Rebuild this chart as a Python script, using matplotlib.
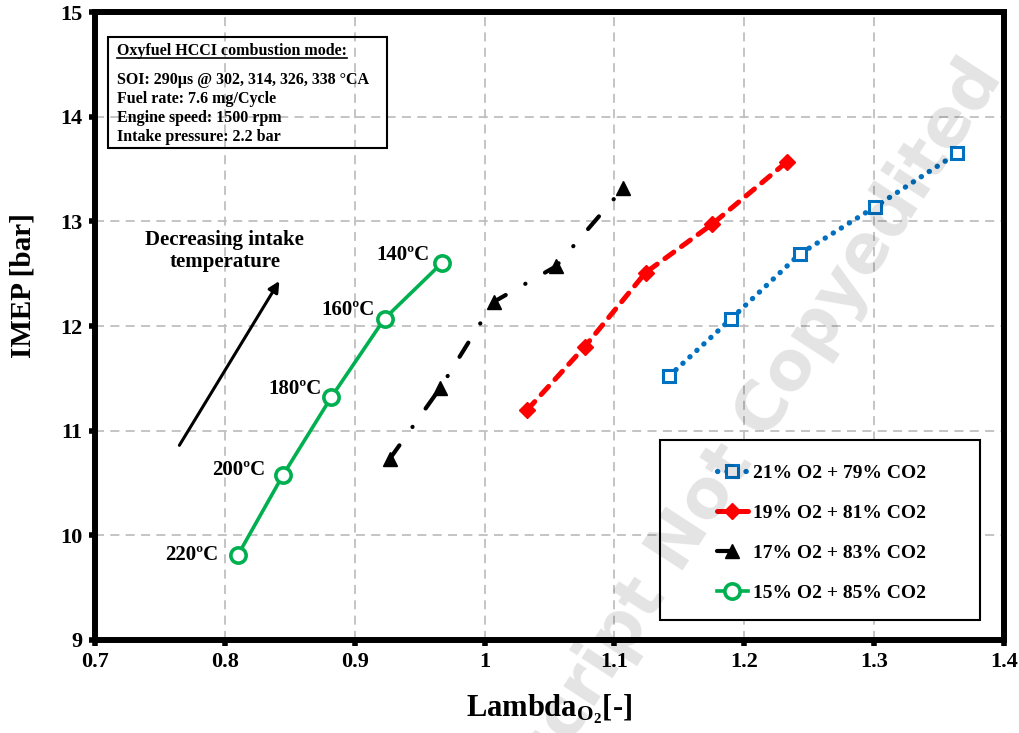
import matplotlib
matplotlib.use("Agg")
import matplotlib.pyplot as plt
from matplotlib.patches import Rectangle

plt.rcParams['font.family'] = ['Liberation Serif', 'DejaVu Serif']
plt.rcParams['font.weight'] = 'bold'
plt.rcParams['mathtext.fontset'] = 'custom'
plt.rcParams['mathtext.rm'] = 'Liberation Serif:bold'
plt.rcParams['mathtext.it'] = 'Liberation Serif:bold'
plt.rcParams['mathtext.bf'] = 'Liberation Serif:bold'

# Lambda_O2 and IMEP for each oxygen / CO2 mixture
lam_21 = [1.142, 1.190, 1.243, 1.301, 1.364]
imep_21 = [11.52, 12.07, 12.69, 13.14, 13.65]
lam_19 = [1.033, 1.077, 1.124, 1.175, 1.233]
imep_19 = [11.20, 11.80, 12.51, 12.97, 13.57]
lam_17 = [0.927, 0.966, 1.007, 1.055, 1.107]
imep_17 = [10.73, 11.41, 12.23, 12.57, 13.32]
lam_15 = [0.810, 0.845, 0.882, 0.923, 0.967]
imep_15 = [9.81, 10.58, 11.32, 12.07, 12.60]
temps_15 = ['220ºC', '200ºC', '180ºC', '160ºC', '140ºC']

labels = ['21% O2 + 79% CO2', '19% O2 + 81% CO2',
          '17% O2 + 83% CO2', '15% O2 + 85% CO2']

xticks = [0.7, 0.8, 0.9, 1.0, 1.1, 1.2, 1.3, 1.4]
xticklabels = ['0.7', '0.8', '0.9', '1', '1.1', '1.2', '1.3', '1.4']
yticks = [9, 10, 11, 12, 13, 14, 15]

info_title = 'Oxyfuel HCCI combustion mode:'
info_lines = ['SOI: 290µs @ 302, 314, 326, 338 °CA',
              'Fuel rate: 7.6 mg/Cycle',
              'Engine speed: 1500 rpm',
              'Intake pressure: 2.2 bar']

fig = plt.figure(figsize=(10.19, 7.33), dpi=100)
ax = fig.add_axes([0.0932, 0.1269, 0.892, 0.8567])

blue = '#0070c0'
red = '#ff0000'
green = '#00b050'

ax.plot(lam_21, imep_21, color=blue, lw=3.8, linestyle=(0, (0.05, 1.75)),
        dash_capstyle='round', marker='s', ms=8.5, mfc='white', mec=blue,
        mew=2.2, label=labels[0], zorder=4)
ax.plot(lam_19, imep_19, color=red, lw=3.6, linestyle=(0, (2.2, 1.9)),
        dash_capstyle='round', marker='D', ms=8, mfc=red, mec=red,
        label=labels[1], zorder=4)
ax.plot(lam_17, imep_17, color='black', lw=3.0,
        linestyle=(0, (4.0, 5.4, 0.05, 5.4)), dash_capstyle='round',
        marker='^', ms=10, mfc='black', mec='black', label=labels[2], zorder=4)
ax.plot(lam_15, imep_15, color=green, lw=2.6, linestyle='-',
        marker='o', ms=11, mfc='white', mec=green, mew=2.6,
        label=labels[3], zorder=4)

# temperature labels next to the 15% O2 points
offsets = [(-14, 0), (-13, 3), (-7, 6), (-7, 6), (-9, 6)]
for x, y, t, off in zip(lam_15, imep_15, temps_15, offsets):
    ax.annotate(t, (x, y), xytext=off, textcoords='offset points',
                ha='right', va='center', fontsize=15, fontweight='bold')

# arrow for decreasing intake temperature
ax.annotate('', xy=(0.842, 12.43), xytext=(0.765, 10.86),
            arrowprops=dict(arrowstyle='-|>', lw=2.2, color='black',
                            mutation_scale=16, shrinkA=0, shrinkB=0))
ax.text(0.8, 12.72, 'Decreasing intake\ntemperature', ha='center',
        va='center', fontsize=15, fontweight='bold', linespacing=1.15)

# info box
ax.add_patch(Rectangle((0.710, 13.70), 0.215, 1.06, fill=False,
                       lw=1.5, ec='black', zorder=5))
title = ax.text(0.717, 14.63, info_title, ha='left', va='center',
                fontsize=11.5, fontweight='bold', zorder=6)
for i, line in enumerate(info_lines):
    ax.text(0.717, 14.35 - i * 0.18, line, ha='left', va='center',
            fontsize=11.5, fontweight='bold', zorder=6)

ax.set_xlim(0.7, 1.4)
ax.set_ylim(9, 15)
ax.set_xticks(xticks)
ax.set_xticklabels(xticklabels)
ax.set_yticks(yticks)
ax.tick_params(direction='out', length=4, width=4, labelsize=16, pad=5)
for lab in ax.get_xticklabels() + ax.get_yticklabels():
    lab.set_fontweight('bold')
for s in ax.spines.values():
    s.set_linewidth(4.3)
ax.grid(True, color='#bfbfbf', linestyle=(0, (5, 3.5)), lw=1.3)
ax.set_axisbelow(True)

ax.set_xlabel(r'Lambda$_{\mathrm{O_2}}$[-]', fontsize=22, fontweight='bold',
              labelpad=14)
ax.set_ylabel('IMEP [bar]', fontsize=21, fontweight='bold')
ax.yaxis.set_label_coords(-0.064, 0.565)

# legend inside its own frame
ax.add_patch(Rectangle((0.6216, 0.0318), 0.352, 0.2867, transform=ax.transAxes,
                       fill=True, fc='white', ec='black', lw=1.5, zorder=5))
leg = ax.legend(loc='center', bbox_to_anchor=(0.799, 0.170), frameon=False,
                prop={'size': 14, 'weight': 'bold'}, handlelength=1.6,
                handletextpad=0.25, labelspacing=1.15)
leg.set_zorder(6)

# underline the info box title
fig.canvas.draw()
bb = title.get_window_extent().transformed(fig.transFigure.inverted())
fig.add_artist(plt.Line2D([bb.x0, bb.x1], [bb.y0 + 0.001, bb.y0 + 0.001],
                          color='black', lw=1.2, transform=fig.transFigure))

# watermark
fig.text(0.69, 0.31, 'Manuscript Not Copyedited', rotation=57,
         ha='center', va='center', fontsize=49, fontweight='bold',
         family='DejaVu Sans', color='black', alpha=0.11, zorder=10)

fig.savefig('out.png', dpi=100)
